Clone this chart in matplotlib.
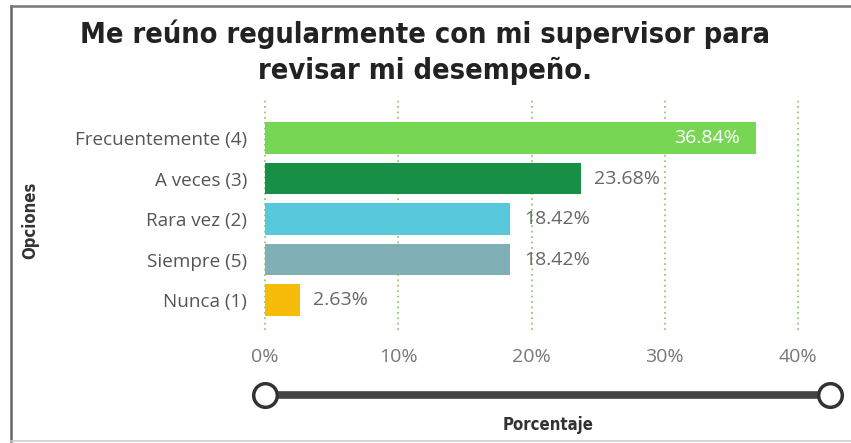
import matplotlib.pyplot as plt
from matplotlib.lines import Line2D

# Datos de la encuesta
opciones = ['Frecuentemente (4)', 'A veces (3)', 'Rara vez (2)', 'Siempre (5)', 'Nunca (1)']
porcentajes = [36.84, 23.68, 18.42, 18.42, 2.63]
colores = ['#78d655', '#178f46', '#58c9da', '#80b0b5', '#f7bb0a']
ticks_x = [0, 10, 20, 30, 40]

W, H = 851, 443
fig = plt.figure(figsize=(W / 100, H / 100), dpi=100)
fig.patch.set_facecolor('white')

ax = fig.add_axes([265 / W, 1 - 330 / H, (798 - 265) / W, 230 / H])
ypos = list(range(len(opciones)))
ax.barh(ypos, porcentajes, height=0.77, color=colores, zorder=2)
ax.set_xlim(0, 40)
ax.set_ylim(4.74, -0.94)

ax.set_yticks(ypos)
ax.set_yticklabels(opciones, fontsize=13.6, color='#555555', family='Open Sans')
ax.set_xticks(ticks_x)
ax.set_xticklabels([f'{t}%' for t in ticks_x], fontsize=14, color='#777777', family='Open Sans')
ax.tick_params(axis='y', length=0, pad=13)
ax.tick_params(axis='x', length=0, pad=13)
ax.grid(axis='x', linestyle=(0, (1, 2)), color='#8fcf6a', linewidth=1.3, zorder=0)
for gl in ax.get_xgridlines():
    gl.set_clip_on(False)
for s in ax.spines.values():
    s.set_visible(False)

# Etiquetas de valor
for y, v in zip(ypos, porcentajes):
    txt = f'{v:.2f}%'
    if v > 30:
        ax.text(v - 1.2, y, txt, ha='right', va='center', color='white',
                fontsize=14, family='Open Sans', zorder=3)
    else:
        ax.text(v + 1.0, y, txt, ha='left', va='center', color='#666666',
                fontsize=14, family='Open Sans', zorder=3)

# Título
fig.text(425 / W, 1 - 52 / H, 'Me reúno regularmente con mi supervisor para\nrevisar mi desempeño.',
         ha='center', va='center', fontsize=20.8, fontweight='bold', fontstretch='condensed',
         family='DejaVu Sans', color='#222222', linespacing=1.35)

fig.text(30 / W, 1 - 220 / H, 'Opciones', rotation=90, ha='center', va='center',
         fontsize=12, fontweight='bold', fontstretch='condensed', color='#333333')
fig.text(548 / W, 1 - 425 / H, 'Porcentaje', ha='center', va='center',
         fontsize=12, fontweight='bold', fontstretch='condensed', color='#333333')

# Deslizador bajo el eje
sy = 1 - 395 / H
fig.add_artist(Line2D([265 / W, 830 / W], [sy, sy], color='#444444', linewidth=5.5,
                      solid_capstyle='butt'))
fig.add_artist(Line2D([265 / W, 830 / W], [sy, sy], linestyle='none', marker='o',
                      markersize=17, markerfacecolor='white', markeredgecolor='#333333',
                      markeredgewidth=2.5))

# Marco
fig.add_artist(Line2D([11 / W, 11 / W], [1 - 6 / H, 1 - 441 / H], color='#666666', linewidth=1.8))
fig.add_artist(Line2D([11 / W, 1], [1 - 6 / H, 1 - 6 / H], color='#777777', linewidth=1.8))
fig.add_artist(Line2D([11 / W, 1], [1 - 441 / H, 1 - 441 / H], color='#cccccc', linewidth=1.2))

fig.savefig('out.png', dpi=100)
